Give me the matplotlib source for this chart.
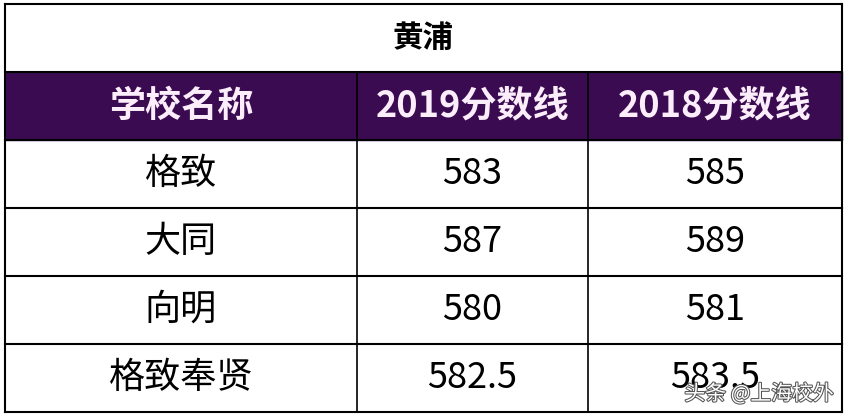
import matplotlib
matplotlib.use("Agg")
import matplotlib.pyplot as plt
import matplotlib.patheffects as pe
from matplotlib.patches import Rectangle

plt.rcParams['font.family'] = ['Noto Sans CJK SC', 'DejaVu Sans']

title = "黄浦"
headers = ["学校名称", "2019分数线", "2018分数线"]
schools = ["格致", "大同", "向明", "格致奉贤"]
score_2019 = ["583", "587", "580", "582.5"]
score_2018 = ["585", "589", "581", "583.5"]

fig = plt.figure(figsize=(8.5, 4.2), dpi=100)
ax = fig.add_axes([0, 0, 1, 1])
ax.set_xlim(0, 850)
ax.set_ylim(420, 0)
ax.axis('off')

L, R = 5, 842
cols = [L, 357, 588, R]
rows = [4, 72, 140, 208, 276, 344, 412]
purple = "#3b0b52"

ax.add_patch(Rectangle((L, rows[1]), R - L, rows[2] - rows[1], color=purple, zorder=1))
lw = 1.5
for y in rows:
    ax.plot([L, R], [y, y], color="black", lw=lw, zorder=2)
ax.plot([L, L], [rows[0], rows[-1]], color="black", lw=lw, zorder=2)
ax.plot([R, R], [rows[0], rows[-1]], color="black", lw=lw, zorder=2)
for x in cols[1:3]:
    ax.plot([x, x], [rows[1], rows[-1]], color="black", lw=1.2, zorder=2)

ax.text((L + R) / 2, (rows[0] + rows[1]) / 2, title, ha='center', va='center',
        fontsize=22, fontweight='bold', color='black', zorder=3)
for i, h in enumerate(headers):
    ax.text((cols[i] + cols[i + 1]) / 2, (rows[1] + rows[2]) / 2, h, ha='center', va='center',
            fontsize=26, fontweight='bold', color='#fbeefa', zorder=3)
for r, (s, a, b) in enumerate(zip(schools, score_2019, score_2018)):
    yc = (rows[r + 2] + rows[r + 3]) / 2
    for i, t in enumerate([s, a, b]):
        ax.text((cols[i] + cols[i + 1]) / 2, yc, t, ha='center', va='center',
                fontsize=26, color='black', zorder=3)

ax.text(834, 394, "头条 @上海校外", ha='right', va='center', fontsize=15,
        color='white', zorder=4,
        path_effects=[pe.withStroke(linewidth=1.5, foreground='#555555')])

fig.savefig("out.png", dpi=100)
